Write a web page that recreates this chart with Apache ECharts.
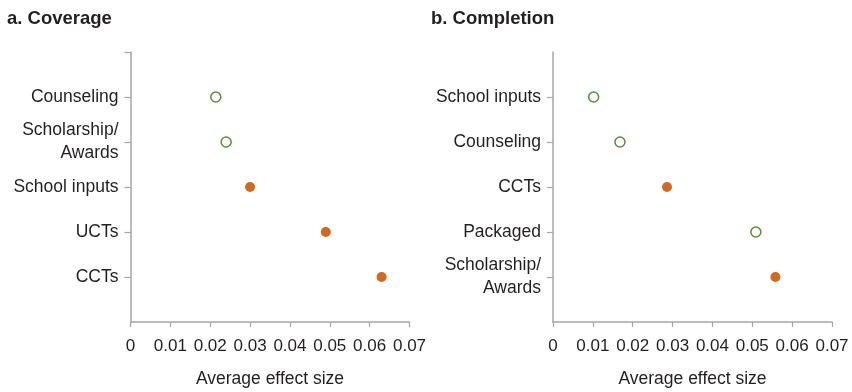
<!DOCTYPE html>
<html>
<head>
<meta charset="utf-8">
<script src="https://cdn.jsdelivr.net/npm/echarts@6/dist/echarts.min.js"></script>
<style>
  html, body { margin: 0; padding: 0; background: #fff; }
  #chart { width: 852px; height: 392px; }
</style>
</head>
<body>
<div id="chart"></div>
<script>
// Panel a: coverage
const coverageCategories = ['Counseling', 'Scholarship/\nAwards', 'School inputs', 'UCTs', 'CCTs'];
const coverageValues = [0.0214, 0.024, 0.030, 0.049, 0.063];
const coverageSignificant = [false, false, true, true, true];

// Panel b: completion
const completionCategories = ['School inputs', 'Counseling', 'CCTs', 'Packaged', 'Scholarship/\nAwards'];
const completionValues = [0.0102, 0.0168, 0.0286, 0.0509, 0.0558];
const completionSignificant = [false, false, true, false, true];

const xTicks = [0, 0.01, 0.02, 0.03, 0.04, 0.05, 0.06, 0.07];

const FONT = '"Liberation Sans", Arial, sans-serif';
const TEXT = '#231f20';
const AXIS = '#a6a6a6';
const ORANGE = '#d2691e';
const GREEN = '#5a8f35';

const chart = echarts.init(document.getElementById('chart'), null, { renderer: 'canvas' });

function yAxisFor(idx, cats, topTick) {
  const padded = [''].concat(cats, ['']);
  return {
    gridIndex: idx,
    type: 'category',
    inverse: true,
    boundaryGap: false,
    data: padded,
    axisLine: { lineStyle: { color: AXIS, width: 1.5 } },
    axisTick: {
      length: 6,
      lineStyle: { color: AXIS, width: 1.2 },
      interval: (i) => (i > 0 && i < padded.length - 1) || (topTick && i === 0)
    },
    axisLabel: {
      color: TEXT, fontFamily: FONT, fontSize: 17.5, margin: 12,
      lineHeight: 23, interval: 0, hideOverlap: false
    },
    splitLine: { show: false }
  };
}

function xAxisFor(idx) {
  return {
    gridIndex: idx,
    type: 'value',
    min: xTicks[0],
    max: xTicks[xTicks.length - 1],
    interval: 0.01,
    name: 'Average effect size',
    nameLocation: 'middle',
    nameGap: 48,
    nameTextStyle: { color: TEXT, fontFamily: FONT, fontSize: 17.5 },
    axisLine: { show: true, lineStyle: { color: AXIS, width: 1.5 } },
    axisTick: { show: true, length: 5, lineStyle: { color: AXIS, width: 1.2 } },
    axisLabel: {
      color: TEXT, fontFamily: FONT, fontSize: 17, margin: 16,
      showMinLabel: true, showMaxLabel: true, hideOverlap: false,
      formatter: (v) => (v === 0 ? '0' : v.toFixed(2))
    },
    splitLine: { show: false }
  };
}

function seriesFor(idx, cats, vals, sig) {
  const filled = [], hollow = [];
  cats.forEach((c, i) => {
    (sig[i] ? filled : hollow).push([vals[i], c]);
  });
  return [
    {
      type: 'scatter', xAxisIndex: idx, yAxisIndex: idx,
      symbol: 'circle', symbolSize: 10,
      itemStyle: { color: ORANGE, opacity: 1 },
      data: filled
    },
    {
      type: 'scatter', xAxisIndex: idx, yAxisIndex: idx,
      symbol: 'circle', symbolSize: 10,
      itemStyle: { color: '#fff', borderColor: GREEN, borderWidth: 1.5, opacity: 1 },
      data: hollow
    }
  ];
}

chart.setOption({
  animation: false,
  backgroundColor: '#fff',
  title: [
    { text: 'a. Coverage', left: 7, top: 9, padding: 0,
      textStyle: { color: TEXT, fontFamily: FONT, fontSize: 18.5, fontWeight: 'bold' } },
    { text: 'b. Completion', left: 431, top: 9, padding: 0,
      textStyle: { color: TEXT, fontFamily: FONT, fontSize: 18.5, fontWeight: 'bold' } }
  ],
  grid: [
    { left: 130.5, top: 52, width: 279, height: 270, containLabel: false, outerBoundsMode: 'none' },
    { left: 553, top: 52, width: 279, height: 270, containLabel: false, outerBoundsMode: 'none' }
  ],
  xAxis: [xAxisFor(0), xAxisFor(1)],
  yAxis: [
    yAxisFor(0, coverageCategories, true),
    yAxisFor(1, completionCategories, false)
  ],
  series: [].concat(
    seriesFor(0, coverageCategories, coverageValues, coverageSignificant),
    seriesFor(1, completionCategories, completionValues, completionSignificant)
  )
});
</script>
</body>
</html>
